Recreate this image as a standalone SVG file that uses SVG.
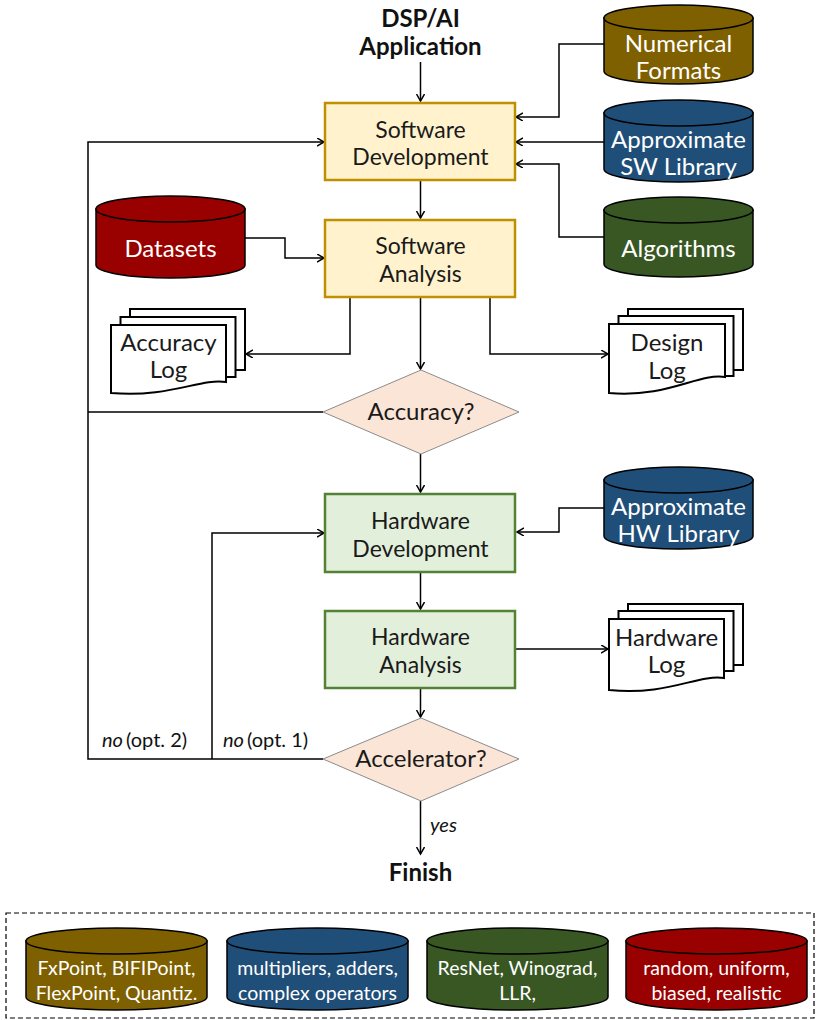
<svg xmlns="http://www.w3.org/2000/svg" width="818" height="1020" viewBox="0 0 818 1020">
<style>
text{font-family:Lato,"Noto Sans","DejaVu Sans",sans-serif;text-anchor:middle}
.t{font-size:23px;fill:#1a1a1a}
.d{font-size:24px;fill:#1a1a1a}
.w{font-size:24px;fill:#ffffff}
.lg{font-size:19.5px;fill:#ffffff}
.b{font-size:24px;font-weight:bold;fill:#111}
.sm{font-size:20px;fill:#111;text-anchor:start}
.sw{fill:#fff2cc;stroke:#bf9000;stroke-width:2.5}
.hw{fill:#e2efda;stroke:#548235;stroke-width:2.5}
.dm{fill:#fbe5d6;stroke:#8c8c8c;stroke-width:1}
.cyl{stroke:#000;stroke-width:1.5}
.pg{fill:#fff;stroke:#000;stroke-width:2}
.c{fill:none;stroke:#000;stroke-width:1.5}
</style>
<defs>
<marker id="ah" markerUnits="userSpaceOnUse" markerWidth="10" markerHeight="10" refX="7" refY="4" orient="auto"><path d="M0,0 L7,4 L0,8" fill="none" stroke="#000" stroke-width="1.5"/></marker>
</defs>

<g id="connectors">
<path class="c" d="M420.5,62 V101" marker-end="url(#ah)"/>
<path class="c" d="M420.5,180 V218" marker-end="url(#ah)"/>
<path class="c" d="M420.5,297 V369" marker-end="url(#ah)"/>
<path class="c" d="M420.5,454 V492" marker-end="url(#ah)"/>
<path class="c" d="M420.5,572 V609" marker-end="url(#ah)"/>
<path class="c" d="M420.5,688 V717" marker-end="url(#ah)"/>
<path class="c" d="M420.5,801 V854" marker-end="url(#ah)"/>
<path class="c" d="M604,44 H559 V117 H516" marker-end="url(#ah)"/>
<path class="c" d="M604,142 H516" marker-end="url(#ah)"/>
<path class="c" d="M604,237 H559 V164 H516" marker-end="url(#ah)"/>
<path class="c" d="M245,238 H285 V258 H324" marker-end="url(#ah)"/>
<path class="c" d="M350,297 V354 H246" marker-end="url(#ah)"/>
<path class="c" d="M490,297 V354 H608" marker-end="url(#ah)"/>
<path class="c" d="M604,508 H559 V532 H517" marker-end="url(#ah)"/>
<path class="c" d="M516,649 H608" marker-end="url(#ah)"/>
<path class="c" d="M323,412 H88"/>
<path class="c" d="M323,759 H88 V142 H324" marker-end="url(#ah)"/>
<path class="c" d="M212,759 V533 H324" marker-end="url(#ah)"/>
</g>

<g id="start"><text class="b" x="420.5" y="27">DSP/AI</text><text class="b" x="420.5" y="55">Application</text></g>

<g id="sw-dev"><rect class="sw" x="325" y="103" width="190" height="77"/><text class="t" x="420.5" y="138">Software</text><text class="t" x="420.5" y="165">Development</text></g>
<g id="sw-analysis"><rect class="sw" x="325" y="220" width="190" height="77"/><text class="t" x="420.5" y="254">Software</text><text class="t" x="420.5" y="282">Analysis</text></g>
<g id="accuracy"><path class="dm" d="M421,370 L519,412 L421,454 L323,412 Z"/><text class="d" x="421" y="420">Accuracy?</text></g>
<g id="hw-dev"><rect class="hw" x="325" y="494" width="190" height="78"/><text class="t" x="420.5" y="529">Hardware</text><text class="t" x="420.5" y="557">Development</text></g>
<g id="hw-analysis"><rect class="hw" x="325" y="611" width="190" height="77"/><text class="t" x="420.5" y="645">Hardware</text><text class="t" x="420.5" y="673">Analysis</text></g>
<g id="accelerator"><path class="dm" d="M421,718 L519,759 L421,801 L323,759 Z"/><text class="d" x="421" y="767">Accelerator?</text></g>
<g id="finish"><text class="b" x="420.5" y="881" font-size="23">Finish</text></g>

<g id="labels">
<text class="sm" x="102" y="747"><tspan font-style="italic">no</tspan><tspan dx="3">(opt. 2)</tspan></text>
<text class="sm" x="223" y="747"><tspan font-style="italic">no</tspan><tspan dx="3">(opt. 1)</tspan></text>
<text class="sm" x="430" y="832" font-size="22" font-style="italic">yes</text>
</g>

<g id="numerical-formats">
<path class="cyl" fill="#7f6000" d="M604,18 V71 A74.5,13 0 0 0 753,71 V18 Z"/>
<ellipse class="cyl" fill="#7f6000" cx="678.5" cy="18" rx="74.5" ry="13"/>
<text class="w" x="678.5" y="52">Numerical</text><text class="w" x="678.5" y="79">Formats</text>
</g>
<g id="approx-sw-lib">
<path class="cyl" fill="#1f4e79" d="M604,113 V169 A74.5,13 0 0 0 753,169 V113 Z"/>
<ellipse class="cyl" fill="#1f4e79" cx="678.5" cy="113" rx="74.5" ry="13"/>
<text class="w" x="678.5" y="148">Approximate</text><text class="w" x="678.5" y="175">SW Library</text>
</g>
<g id="algorithms">
<path class="cyl" fill="#385723" d="M604,210 V264 A74.5,13 0 0 0 753,264 V210 Z"/>
<ellipse class="cyl" fill="#385723" cx="678.5" cy="210" rx="74.5" ry="13"/>
<text class="w" x="678.5" y="257">Algorithms</text>
</g>
<g id="datasets">
<path class="cyl" fill="#990000" d="M96,209 V265 A74.5,13 0 0 0 245,265 V209 Z"/>
<ellipse class="cyl" fill="#990000" cx="170.5" cy="209" rx="74.5" ry="13"/>
<text class="w" x="170.5" y="257">Datasets</text>
</g>
<g id="approx-hw-lib">
<path class="cyl" fill="#1f4e79" d="M604,480 V536 A74.5,13 0 0 0 753,536 V480 Z"/>
<ellipse class="cyl" fill="#1f4e79" cx="678.5" cy="480" rx="74.5" ry="13"/>
<text class="w" x="678.5" y="515">Approximate</text><text class="w" x="678.5" y="542">HW Library</text>
</g>

<g id="accuracy-log">
<rect class="pg" x="130" y="309" width="115" height="61"/>
<rect class="pg" x="120.5" y="317" width="115" height="60"/>
<path class="pg" d="M111,325 H226 V382 C200,378 170,398 111,393 Z"/>
<text class="d" x="168.5" y="351">Accuracy</text><text class="d" x="168.5" y="378">Log</text>
</g>
<g id="design-log">
<rect class="pg" x="628" y="309" width="115" height="61"/>
<rect class="pg" x="618.5" y="316" width="115" height="60"/>
<path class="pg" d="M609,324 H725 V377 C698,373 668,398 609,393 Z"/>
<text class="d" x="667" y="351">Design</text><text class="d" x="667" y="379">Log</text>
</g>
<g id="hardware-log">
<rect class="pg" x="628" y="604" width="115" height="61"/>
<rect class="pg" x="618.5" y="611" width="115" height="60"/>
<path class="pg" d="M609,619 H724 V678 C698,674 668,696 609,690 Z"/>
<text class="d" x="666.5" y="646">Hardware</text><text class="d" x="666.5" y="673">Log</text>
</g>

<g id="legend">
<rect x="6" y="913" width="808" height="105" fill="none" stroke="#000" stroke-width="1.2" stroke-dasharray="5,3"/>
<path class="cyl" fill="#7f6000" d="M26,941 V997 A90.5,13 0 0 0 207,997 V941 Z"/>
<ellipse class="cyl" fill="#7f6000" cx="116.5" cy="941" rx="90.5" ry="13"/>
<text class="lg" x="116.5" y="975">FxPoint, BIFIPoint,</text><text class="lg" x="116.5" y="1000">FlexPoint, Quantiz.</text>
<path class="cyl" fill="#1f4e79" d="M227,941 V997 A90.5,13 0 0 0 408,997 V941 Z"/>
<ellipse class="cyl" fill="#1f4e79" cx="317.5" cy="941" rx="90.5" ry="13"/>
<text class="lg" x="317.5" y="975">multipliers, adders,</text><text class="lg" x="317.5" y="1000">complex operators</text>
<path class="cyl" fill="#385723" d="M427,941 V997 A90.5,13 0 0 0 608,997 V941 Z"/>
<ellipse class="cyl" fill="#385723" cx="517.5" cy="941" rx="90.5" ry="13"/>
<text class="lg" x="517.5" y="975">ResNet, Winograd,</text><text class="lg" x="517.5" y="1000">LLR,</text>
<path class="cyl" fill="#990000" d="M626,941 V997 A90.5,13 0 0 0 807,997 V941 Z"/>
<ellipse class="cyl" fill="#990000" cx="716.5" cy="941" rx="90.5" ry="13"/>
<text class="lg" x="716.5" y="975">random, uniform,</text><text class="lg" x="716.5" y="1000">biased, realistic</text>
</g>
</svg>
